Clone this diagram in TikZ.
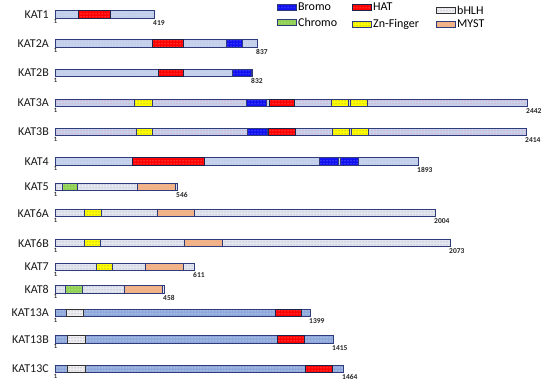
\documentclass[tikz,border=0pt]{standalone}
\usepackage{fontspec}
\setmainfont{Carlito}
\usetikzlibrary{patterns}
\definecolor{navy}{HTML}{2F3B7A}
\definecolor{lblue}{HTML}{C6D2EE}
\definecolor{dblue}{HTML}{8EA8DB}
\definecolor{mystbar}{HTML}{E4E6EF}
\definecolor{hatred}{HTML}{FF0000}
\definecolor{bromo}{HTML}{1010F0}
\definecolor{chromo}{HTML}{8FD050}
\definecolor{znf}{HTML}{FFFF00}
\definecolor{myst}{HTML}{F4B48A}
\definecolor{bhlh}{HTML}{EEEEF2}
\tikzset{
  dotted fill/.style 2 args={preaction={fill=#1}, pattern=dots, pattern color=#2},
  barA/.style={draw=navy, line width=0.7pt, dotted fill={lblue}{navy!40}},
  barB/.style={draw=navy, line width=0.7pt, dotted fill={lblue}{red!60}},
  barM/.style={draw=navy, line width=0.7pt, dotted fill={mystbar}{navy!55}},
  barK/.style={draw=navy, line width=0.7pt, dotted fill={dblue}{white}},
  hatdom/.style={draw=navy!60!black, line width=0.7pt, dotted fill={hatred}{pink}},
  bromodom/.style={draw=navy, line width=0.7pt, dotted fill={bromo}{white!70!blue}},
  chromodom/.style={draw=navy, line width=0.7pt, dotted fill={chromo}{white}},
  zndom/.style={draw=navy, line width=0.7pt, dotted fill={znf}{black!60}},
  mystdom/.style={draw=navy, line width=0.7pt, dotted fill={myst}{brown!70}},
  bhlhdom/.style={draw=black!80, line width=0.7pt, dotted fill={bhlh}{gray}},
  katlab/.style={anchor=east, font=\fontsize{12}{14}\selectfont, text=black!90, inner sep=0pt},
  numlab/.style={font=\fontsize{7.5}{8}\selectfont\bfseries, text=black!85, inner sep=0pt},
  onelab/.style={font=\fontsize{6.5}{7}\selectfont\bfseries, text=black!80, inner sep=0pt},
  leglab/.style={anchor=west, font=\fontsize{12}{14}\selectfont, inner sep=0pt},
}
% #1 name, #2 y centre, #3 x end, #4 style, #5 end label
\newcommand\protbar[5]{%
  \path[#4] (55,{#2-3.75}) rectangle (#3,{#2+3.75});
  \node[katlab] (#1) at (49,#2) {#1};
  \node[onelab, anchor=north] (#1s) at (55.5,{#2+5}) {1};
  \node[numlab, anchor=north west] (#1e) at ({#3-1},{#2+5.5}) {#5};
}
% #1 y centre, #2 x1, #3 x2, #4 style
\newcommand\protdom[4]{%
  \path[#4] (#2,{#1-3.75}) rectangle (#3,{#1+3.75});
}
% #1 x, #2 y centre, #3 style, #4 text, #5 name
\newcommand\legitem[5]{%
  \path[#3] (#1,{#2-3}) rectangle ({#1+19},{#2+3});
  \node[leglab] (#5) at ({#1+21},#2) {#4};
}
\begin{document}
\begin{tikzpicture}[x=1pt,y=-1pt]
\useasboundingbox (0,0) rectangle (550,386);

% legend
\legitem{277}{7}{bromodom}{Bromo}{lgbromo}
\legitem{352}{7}{hatdom}{HAT}{lghat}
\legitem{436}{10}{bhlhdom}{bHLH}{lgbhlh}
\legitem{277}{22}{chromodom}{Chromo}{lgchromo}
\legitem{352}{24}{zndom}{Zn-Finger}{lgzn}
\legitem{436}{24}{mystdom}{MYST}{lgmyst}

% KAT1
\protbar{KAT1}{14.5}{154}{barA}{419}
\protdom{14.5}{78}{110}{hatdom}
% KAT2A
\protbar{KAT2A}{43.5}{257}{barA}{837}
\protdom{43.5}{152}{183}{hatdom}
\protdom{43.5}{226}{242}{bromodom}
% KAT2B
\protbar{KAT2B}{73}{252}{barA}{832}
\protdom{73}{158}{183}{hatdom}
\protdom{73}{232}{251}{bromodom}
% KAT3A
\protbar{KAT3A}{103}{527}{barB}{2442}
\protdom{103}{134}{152}{zndom}
\protdom{103}{246}{266}{bromodom}
\protdom{103}{269}{294}{hatdom}
\protdom{103}{331}{348}{zndom}
\protdom{103}{350}{367}{zndom}
% KAT3B
\protbar{KAT3B}{132}{526}{barB}{2414}
\protdom{132}{136}{152}{zndom}
\protdom{132}{247}{267}{bromodom}
\protdom{132}{268}{295}{hatdom}
\protdom{132}{332}{349}{zndom}
\protdom{132}{351}{368}{zndom}
% KAT4
\protbar{KAT4}{161.5}{418}{barA}{1893}
\protdom{161.5}{132}{204}{hatdom}
\protdom{161.5}{319}{338}{bromodom}
\protdom{161.5}{340}{358}{bromodom}
% KAT5
\protbar{KAT5}{187}{177}{barM}{546}
\protdom{187}{62}{77}{chromodom}
\protdom{187}{137}{175}{mystdom}
% KAT6A
\protbar{KAT6A}{213}{435}{barM}{2004}
\protdom{213}{84}{101}{zndom}
\protdom{213}{157}{194}{mystdom}
% KAT6B
\protbar{KAT6B}{243}{450}{barM}{2073}
\protdom{243}{84}{100}{zndom}
\protdom{243}{184}{222}{mystdom}
% KAT7
\protbar{KAT7}{267}{194}{barM}{611}
\protdom{267}{96}{112}{zndom}
\protdom{267}{145}{183}{mystdom}
% KAT8
\protbar{KAT8}{289.5}{164}{barM}{458}
\protdom{289.5}{65}{82}{chromodom}
\protdom{289.5}{124}{162}{mystdom}
% KAT13A
\protbar{KAT13A}{313}{310}{barK}{1399}
\protdom{313}{66}{83}{bhlhdom}
\protdom{313}{275}{301}{hatdom}
% KAT13B
\protbar{KAT13B}{339.5}{333}{barK}{1415}
\protdom{339.5}{67}{85}{bhlhdom}
\protdom{339.5}{277}{304}{hatdom}
% KAT13C
\protbar{KAT13C}{369}{343}{barK}{1464}
\protdom{369}{67}{85}{bhlhdom}
\protdom{369}{305}{332}{hatdom}
\end{tikzpicture}
\end{document}
